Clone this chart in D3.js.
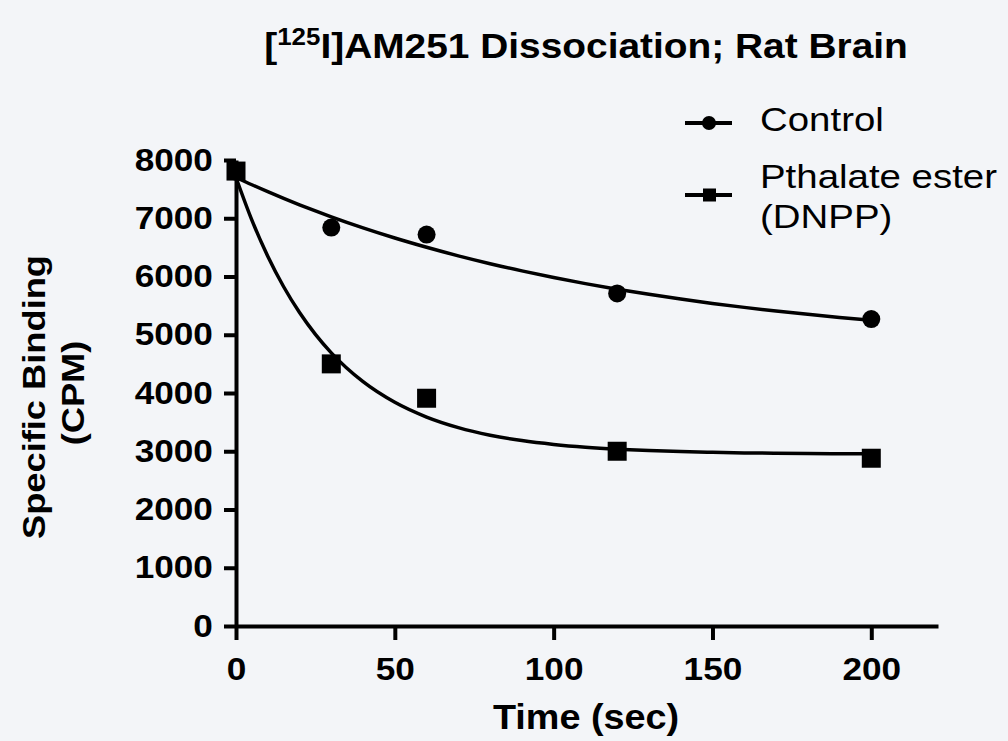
<!DOCTYPE html>
<html>
<head>
<meta charset="utf-8">
<script src="https://cdn.jsdelivr.net/npm/d3@7"></script>
<style>
  body { margin: 0; background: #f3f5f8; }
  svg { display: block; font-family: "Liberation Sans", Arial, sans-serif; }
</style>
</head>
<body>
<svg id="chart" width="1008" height="741"></svg>
<script>
// measured points
var times = [ 0, 30, 60, 120, 200 ];
var controlValues = [ 7800, 6840, 6720, 5710, 5270 ];
var dnppValues = [ 7810, 4500, 3910, 3000, 2880 ];

// fitted curves
var fitTimes = [ 0, 5, 10, 15, 20, 25, 30, 40, 50, 60, 70, 80, 90, 100, 110, 120, 130, 140, 150, 160, 170, 180, 190, 200 ];
var controlFit = [ 7700, 7575, 7456, 7341, 7231, 7126, 7025, 6835, 6661, 6502, 6355, 6220, 6096, 5982, 5878, 5782, 5694, 5613, 5538, 5470, 5407, 5350, 5297, 5248 ];
var dnppFit = [ 7700, 6968, 6348, 5824, 5381, 5006, 4689, 4194, 3840, 3587, 3406, 3276, 3183, 3117, 3069, 3035, 3011, 2994, 2981, 2972, 2966, 2961, 2958, 2956 ];

var xTicks = [ 0, 50, 100, 150, 200 ];
var yTicks = [ 0, 1000, 2000, 3000, 4000, 5000, 6000, 7000, 8000 ];
var seriesNames = [ "Control", "Pthalate ester", "(DNPP)" ];

var svg = d3.select( "#chart" );

var x = d3.scaleLinear().domain( [ 0, 221 ] ).range( [ 236, 938 ] );
var y = d3.scaleLinear().domain( [ 0, 8000 ] ).range( [ 626, 160 ] );

// axes
var xAxis = svg.append( "g" )
  .attr( "transform", "translate(0," + y( 0 ) + ")" )
  .call( d3.axisBottom( x ).tickValues( xTicks ).tickFormat( d3.format( "d" ) )
    .tickSize( 14 ).tickSizeOuter( 0 ).tickPadding( 17 ) );

var yAxis = svg.append( "g" )
  .attr( "transform", "translate(" + x( 0 ) + ",0)" )
  .call( d3.axisLeft( y ).tickValues( yTicks ).tickFormat( d3.format( "d" ) )
    .tickSize( 12 ).tickSizeOuter( 0 ).tickPadding( 9 ) );

[ xAxis, yAxis ].forEach( function( axis ) {
  axis.select( ".domain" ).attr( "stroke", "#000" ).attr( "stroke-width", 4 );
  axis.selectAll( ".tick line" ).attr( "stroke", "#000" ).attr( "stroke-width", 4 );
  axis.selectAll( ".tick text" )
    .attr( "fill", "#000" )
    .attr( "font-size", 32 )
    .attr( "font-weight", "bold" )
    .attr( "font-family", "'Liberation Sans', Arial, sans-serif" )
    .attr( "transform", "scale(1.1,1)" );
} );

// fitted curves
var line = d3.line().curve( d3.curveMonotoneX );
[ controlFit, dnppFit ].forEach( function( fit ) {
  svg.append( "path" )
    .attr( "d", line( fitTimes.map( function( t, i ) { return [ x( t ), y( fit[ i ] ) ]; } ) ) )
    .attr( "fill", "none" )
    .attr( "stroke", "#000" )
    .attr( "stroke-width", 3.5 );
} );

// markers
svg.append( "g" ).selectAll( "circle" )
  .data( times )
  .enter().append( "circle" )
  .attr( "cx", function( t ) { return x( t ); } )
  .attr( "cy", function( t, i ) { return y( controlValues[ i ] ); } )
  .attr( "r", 9 )
  .attr( "fill", "#000" );

svg.append( "g" ).selectAll( "rect" )
  .data( times )
  .enter().append( "rect" )
  .attr( "x", function( t ) { return x( t ) - 9.5; } )
  .attr( "y", function( t, i ) { return y( dnppValues[ i ] ) - 9.5; } )
  .attr( "width", 19 )
  .attr( "height", 19 )
  .attr( "fill", "#000" );

function label( px, py, text, size, weight, stretch, rotate ) {
  return svg.append( "text" )
    .attr( "transform", "translate(" + px + "," + py + ")" + ( rotate ? " rotate(" + rotate + ")" : "" ) + " scale(" + stretch + ",1)" )
    .attr( "font-size", size )
    .attr( "font-weight", weight )
    .attr( "fill", "#000" )
    .text( text );
}

// title
var title = svg.append( "text" )
  .attr( "transform", "translate(586,58) scale(1.08,1)" )
  .attr( "text-anchor", "middle" )
  .attr( "font-size", 36 )
  .attr( "font-weight", "bold" );
title.append( "tspan" ).text( "[" );
title.append( "tspan" ).attr( "font-size", 24 ).attr( "dy", -13 ).text( "125" );
title.append( "tspan" ).attr( "dy", 13 ).text( "I]AM251 Dissociation; Rat Brain" );

// axis titles
label( 586, 729, "Time (sec)", 35, "bold", 1.08 ).attr( "text-anchor", "middle" );
label( 45, 397, "Specific Binding", 31, "bold", 1.17, -90 ).attr( "text-anchor", "middle" );
label( 84, 393, "(CPM)", 31, "bold", 1.17, -90 ).attr( "text-anchor", "middle" );

// legend
var legend = svg.append( "g" );
[ 123, 195 ].forEach( function( ly, i ) {
  legend.append( "line" )
    .attr( "x1", 685 ).attr( "x2", 732 )
    .attr( "y1", ly ).attr( "y2", ly )
    .attr( "stroke", "#000" ).attr( "stroke-width", 4 );
  if( i === 0 ) {
    legend.append( "circle" ).attr( "cx", 709 ).attr( "cy", ly ).attr( "r", 7 ).attr( "fill", "#000" );
  } else {
    legend.append( "rect" ).attr( "x", 703 ).attr( "y", ly - 6.5 ).attr( "width", 13 ).attr( "height", 13 ).attr( "fill", "#000" );
  }
} );
label( 760, 131, seriesNames[ 0 ], 34, "normal", 1.13 );
label( 760, 188, seriesNames[ 1 ], 34, "normal", 1.13 );
label( 760, 228, seriesNames[ 2 ], 34, "normal", 1.13 );
</script>
</body>
</html>
